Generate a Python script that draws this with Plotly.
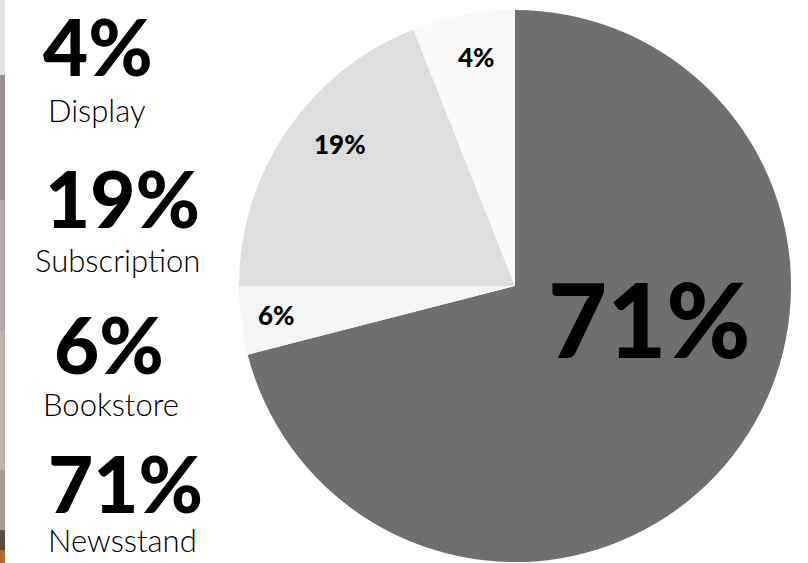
import plotly.graph_objects as go

# Slice sizes as drawn (clockwise from 12 o'clock)
categories = ["Newsstand", "Bookstore", "Subscription", "Display"]
slice_values = [71, 4, 19, 6]
slice_text = ["71%", "6%", "19%", "4%"]
slice_colors = ["#6f6f6f", "#f5f5f5", "#dedede", "#f9f9f9"]

# Left-hand legend text (top to bottom)
legend_pcts = ["4%", "19%", "6%", "71%"]
legend_names = ["Display", "Subscription", "Bookstore", "Newsstand"]

W, H = 808, 563
cx, cy, r = 515, 286, 276

fig = go.Figure()
fig.add_trace(go.Pie(
    labels=categories,
    values=slice_values,
    sort=False,
    direction="clockwise",
    rotation=0,
    marker=dict(colors=slice_colors, line=dict(width=0)),
    textinfo="none",
    hoverinfo="label+value",
    domain=dict(x=[(cx - r) / W, (cx + r) / W], y=[(H - cy - r) / H, (H - cy + r) / H]),
    showlegend=False,
))

BOLD = dict(family="Lato, 'DejaVu Sans', sans-serif", color="#000000", weight=900)
LIGHT = dict(family="Lato, 'DejaVu Sans', sans-serif", color="#000000", weight=300)

def px(x, y):
    return x / W, 1 - y / H

# labels on slices
slice_label_pos = [(649, 318, 102), (276, 315, 26), (340, 144, 26), (476, 57, 26)]
for txt, (x, y, s) in zip(slice_text, slice_label_pos):
    ax_, ay_ = px(x, y)
    fig.add_annotation(x=ax_, y=ay_, xref="paper", yref="paper", text=txt,
                       showarrow=False, font=dict(size=s, **BOLD),
                       xanchor="center", yanchor="middle")

# left column
left_pos = [(98, 46, 97, 110), (122, 198, 118, 260), (109, 344, 111, 404), (125, 483, 122, 540)]
for pct, name, (px1, py1, px2, py2) in zip(legend_pcts, legend_names, left_pos):
    a, b = px(px1, py1)
    fig.add_annotation(x=a, y=b, xref="paper", yref="paper", text=pct,
                       showarrow=False, font=dict(size=78, **BOLD),
                       xanchor="center", yanchor="middle")
    a, b = px(px2, py2)
    fig.add_annotation(x=a, y=b, xref="paper", yref="paper", text=name,
                       showarrow=False, font=dict(size=31, **LIGHT),
                       xanchor="center", yanchor="middle")

# thin photo strip at the left edge (decorative)
strip = [(0, 75, "#e6e2e4"), (75, 200, "#9e8e98"), (200, 330, "#b4a6a8"),
         (330, 470, "#bfb0a8"), (470, 530, "#a89a92"), (530, 550, "#5e4a44"), (550, 563, "#b06a3a")]
for y0, y1, c in strip:
    fig.add_shape(type="rect", xref="paper", yref="paper",
                  x0=0, x1=5 / W, y0=1 - y1 / H, y1=1 - y0 / H,
                  fillcolor=c, line=dict(width=0), layer="below")

fig.update_layout(
    width=W, height=H,
    margin=dict(l=0, r=0, t=0, b=0),
    paper_bgcolor="white", plot_bgcolor="white",
)
fig.write_html("out.html", config={"displayModeBar": False},
               post_script="document.body.style.margin='0';document.body.style.overflow='hidden';")
